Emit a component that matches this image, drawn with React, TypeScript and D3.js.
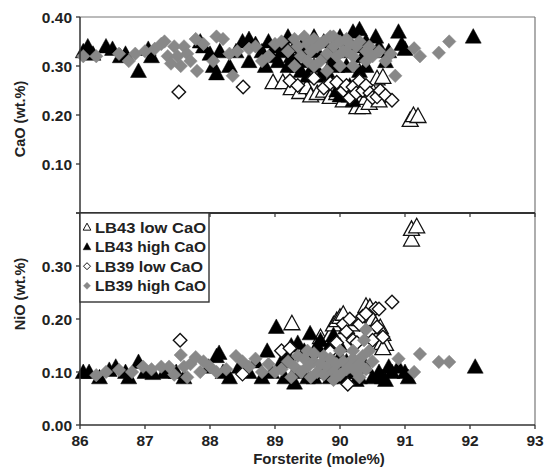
import React from "react";
import * as d3 from "d3";

// ---------- DATA ----------
// Top panel: [Forsterite, CaO]
const lb43LowCaO_top: [number, number][] = [
  [88.97, 0.267], [89.12, 0.267], [89.25, 0.255], [89.38, 0.247], [89.49, 0.257], [89.55, 0.24],
  [89.65, 0.245], [89.75, 0.25], [89.85, 0.237], [89.95, 0.245], [90.05, 0.23], [90.15, 0.24],
  [90.26, 0.216], [90.35, 0.216], [90.4, 0.235], [90.45, 0.225], [90.5, 0.25], [90.57, 0.275],
  [90.66, 0.278], [90.6, 0.23], [91.08, 0.19], [91.13, 0.2], [91.2, 0.198],
];
const lb43HighCaO_top: [number, number][] = [
  [86.05, 0.33], [86.12, 0.34], [86.2, 0.325], [86.4, 0.34], [86.5, 0.335], [86.62, 0.32], [86.7, 0.325],
  [86.9, 0.29], [87.05, 0.335], [87.1, 0.32], [87.85, 0.35], [87.9, 0.34], [88.0, 0.325], [88.05, 0.30],
  [88.1, 0.285], [88.15, 0.33], [88.3, 0.30], [88.4, 0.33], [88.5, 0.35], [88.6, 0.355], [88.7, 0.345],
  [88.6, 0.31], [88.8, 0.33], [88.85, 0.30], [88.9, 0.35], [88.95, 0.32], [89.0, 0.34], [89.05, 0.31],
  [89.1, 0.33], [89.15, 0.345], [89.2, 0.36], [89.2, 0.30], [89.25, 0.32], [89.3, 0.34], [89.35, 0.30],
  [89.4, 0.33], [89.4, 0.29], [89.45, 0.35], [89.5, 0.31], [89.5, 0.28], [89.55, 0.345], [89.6, 0.30],
  [89.6, 0.36], [89.65, 0.33], [89.7, 0.28], [89.75, 0.35], [89.8, 0.32], [89.8, 0.29], [89.85, 0.27],
  [89.9, 0.34], [89.9, 0.31], [89.95, 0.30], [89.95, 0.25], [90.0, 0.24], [90.0, 0.36], [90.05, 0.33],
  [90.1, 0.24], [90.1, 0.30], [90.15, 0.26], [90.2, 0.23], [90.25, 0.25], [90.15, 0.35], [90.2, 0.37],
  [90.25, 0.34], [90.3, 0.375], [90.3, 0.29], [90.35, 0.32], [90.4, 0.35], [90.4, 0.30], [90.5, 0.33],
  [90.55, 0.36], [90.6, 0.34], [90.7, 0.31], [90.75, 0.33], [90.9, 0.37], [90.95, 0.345], [91.0, 0.335],
  [92.05, 0.36],
];
const lb39LowCaO_top: [number, number][] = [
  [87.52, 0.247], [88.51, 0.257], [89.23, 0.27], [89.35, 0.26], [89.6, 0.275], [89.75, 0.255],
  [89.85, 0.265], [89.95, 0.267], [90.05, 0.25], [90.1, 0.26], [90.15, 0.235], [90.2, 0.257],
  [90.25, 0.245], [90.3, 0.27], [90.35, 0.25], [90.4, 0.26], [90.46, 0.245], [90.5, 0.235],
  [90.57, 0.237], [90.62, 0.25], [90.7, 0.24], [90.8, 0.23],
];
const lb39HighCaO_top: [number, number][] = [
  [86.05, 0.32], [86.25, 0.32], [86.6, 0.325], [86.75, 0.31], [86.85, 0.325], [87.0, 0.33], [87.15, 0.335],
  [87.25, 0.345], [87.3, 0.35], [87.35, 0.32], [87.4, 0.305], [87.45, 0.34], [87.5, 0.32], [87.55, 0.30],
  [87.6, 0.34], [87.65, 0.325], [87.7, 0.31], [87.78, 0.355], [87.8, 0.29], [87.9, 0.345], [88.05, 0.31],
  [88.1, 0.36], [88.2, 0.355], [88.3, 0.325], [88.35, 0.28], [88.42, 0.33], [88.6, 0.335], [88.7, 0.34],
  [88.8, 0.31], [88.9, 0.32], [89.0, 0.345], [89.1, 0.35], [89.2, 0.33], [89.3, 0.355], [89.3, 0.30],
  [89.35, 0.34], [89.4, 0.32], [89.45, 0.36], [89.5, 0.345], [89.5, 0.31], [89.55, 0.33], [89.6, 0.355],
  [89.6, 0.30], [89.65, 0.34], [89.7, 0.31], [89.7, 0.345], [89.75, 0.35], [89.8, 0.325], [89.8, 0.29],
  [89.85, 0.36], [89.9, 0.34], [89.9, 0.36], [89.95, 0.32], [90.0, 0.35], [90.0, 0.30], [90.05, 0.33],
  [90.1, 0.355], [90.1, 0.33], [90.15, 0.345], [90.2, 0.32], [90.2, 0.30], [90.25, 0.34], [90.3, 0.35],
  [90.4, 0.33], [90.4, 0.31], [90.45, 0.34], [90.5, 0.32], [90.6, 0.33], [90.7, 0.31], [90.78, 0.325],
  [90.85, 0.28], [91.14, 0.336], [91.23, 0.32], [91.52, 0.327], [91.68, 0.35],
];

// Bottom panel: [Forsterite, NiO]
const lb43LowCaO_bot: [number, number][] = [
  [89.26, 0.192], [89.7, 0.166], [89.85, 0.17], [89.9, 0.19], [89.95, 0.198], [90.0, 0.204],
  [90.05, 0.21], [90.1, 0.185], [90.2, 0.19], [90.3, 0.2], [90.4, 0.225], [90.46, 0.223],
  [90.5, 0.2], [90.55, 0.19], [90.62, 0.185], [90.64, 0.155], [90.66, 0.172], [90.7, 0.153],
  [90.66, 0.145], [91.1, 0.35], [91.1, 0.37], [91.18, 0.375],
];
const lb43HighCaO_bot: [number, number][] = [
  [86.05, 0.10], [86.14, 0.10], [86.3, 0.09], [86.45, 0.104], [86.55, 0.11], [86.7, 0.10], [86.75, 0.09],
  [86.9, 0.119], [87.0, 0.10], [87.12, 0.098], [87.3, 0.10], [87.48, 0.10], [87.6, 0.09], [87.98, 0.11],
  [88.1, 0.13], [88.14, 0.136], [88.2, 0.10], [88.3, 0.09], [88.45, 0.11], [88.6, 0.10], [88.7, 0.12],
  [88.8, 0.09], [88.88, 0.14], [88.95, 0.10], [89.02, 0.185], [89.1, 0.12], [89.15, 0.09], [89.2, 0.13],
  [89.25, 0.15], [89.3, 0.10], [89.3, 0.08], [89.35, 0.155], [89.4, 0.11], [89.45, 0.14], [89.5, 0.09],
  [89.54, 0.173], [89.55, 0.13], [89.6, 0.09], [89.65, 0.15], [89.7, 0.10], [89.7, 0.16], [89.75, 0.12],
  [89.8, 0.14], [89.85, 0.09], [89.85, 0.15], [89.9, 0.17], [89.95, 0.11], [90.0, 0.15], [90.0, 0.13],
  [90.05, 0.09], [90.1, 0.12], [90.1, 0.10], [90.2, 0.10], [90.25, 0.085], [90.3, 0.09], [90.4, 0.11],
  [90.5, 0.09], [90.6, 0.10], [90.65, 0.09], [90.7, 0.085], [90.75, 0.11], [90.8, 0.10], [90.9, 0.11],
  [91.0, 0.10], [91.05, 0.09], [92.08, 0.11],
];
const lb39LowCaO_bot: [number, number][] = [
  [87.54, 0.16], [88.5, 0.096], [89.1, 0.14], [89.23, 0.145], [89.4, 0.12], [89.6, 0.135], [89.85, 0.138],
  [89.95, 0.155], [90.05, 0.19], [90.1, 0.176], [90.12, 0.077], [90.15, 0.20], [90.2, 0.16], [90.26, 0.155],
  [90.3, 0.19], [90.35, 0.205], [90.4, 0.21], [90.45, 0.175], [90.5, 0.16], [90.55, 0.22], [90.57, 0.185],
  [90.6, 0.219], [90.66, 0.166], [90.8, 0.232],
];
const lb39HighCaO_bot: [number, number][] = [
  [86.25, 0.094], [86.4, 0.10], [86.6, 0.104], [86.8, 0.10], [86.97, 0.11], [87.1, 0.105], [87.25, 0.11],
  [87.37, 0.11], [87.45, 0.095], [87.55, 0.132], [87.6, 0.11], [87.65, 0.09], [87.7, 0.115], [87.78, 0.128],
  [87.85, 0.10], [87.9, 0.12], [88.0, 0.11], [88.1, 0.10], [88.25, 0.105], [88.4, 0.13], [88.5, 0.12],
  [88.6, 0.11], [88.7, 0.125], [88.8, 0.10], [88.9, 0.115], [89.0, 0.10], [89.1, 0.105], [89.2, 0.12],
  [89.25, 0.09], [89.3, 0.11], [89.35, 0.13], [89.4, 0.10], [89.45, 0.125], [89.5, 0.11], [89.5, 0.14],
  [89.55, 0.09], [89.6, 0.12], [89.6, 0.135], [89.65, 0.10], [89.7, 0.115], [89.75, 0.095], [89.75, 0.13],
  [89.8, 0.11], [89.85, 0.125], [89.9, 0.10], [89.9, 0.085], [89.95, 0.115], [90.0, 0.095], [90.0, 0.14],
  [90.05, 0.12], [90.1, 0.105], [90.15, 0.11], [90.2, 0.125], [90.2, 0.14], [90.25, 0.1], [90.3, 0.115],
  [90.3, 0.09], [90.35, 0.13], [90.37, 0.16], [90.4, 0.18], [90.4, 0.105], [90.45, 0.14], [90.5, 0.12],
  [90.9, 0.125], [91.14, 0.10], [91.23, 0.134], [91.52, 0.119], [91.68, 0.119],
];

const seriesNames = ["LB43 low CaO", "LB43 high CaO", "LB39 low CaO", "LB39 high CaO"];
const xTicks = [86, 87, 88, 89, 90, 91, 92, 93];
const topYTicks = [0, 0.1, 0.2, 0.3, 0.4];
const topYLabels = ["", "0.10", "0.20", "0.30", "0.40"];
const botYTicks = [0, 0.1, 0.2, 0.3, 0.4];
const botYLabels = ["0.00", "0.10", "0.20", "0.30", ""];

// ---------- LAYOUT ----------
const W = 552, H = 468;
const L = 80, R = 535;
const topT = 17, mid = 213, botB = 425;
const FONT = "'Liberation Sans', Arial, sans-serif";

const x = d3.scaleLinear().domain([86, 93]).range([L, R]);
const yTop = d3.scaleLinear().domain([0, 0.4]).range([mid, topT]);
const yBot = d3.scaleLinear().domain([0, 0.4]).range([botB, mid]);

const GRAY = "#888888";

type Kind = "openTri" | "tri" | "openDia" | "dia";
const kinds: Kind[] = ["openTri", "tri", "openDia", "dia"];

function markerPath(kind: Kind, s: number) {
  if (kind === "openTri" || kind === "tri") {
    return `M0,${-0.55 * s}L${-0.55 * s},${0.45 * s}L${0.55 * s},${0.45 * s}Z`;
  }
  return `M0,${-0.5 * s}L${0.5 * s},0L0,${0.5 * s}L${-0.5 * s},0Z`;
}

function markerStyle(kind: Kind) {
  switch (kind) {
    case "openTri": return { fill: "#fff", stroke: "#111", strokeWidth: 1.3 };
    case "tri": return { fill: "#000", stroke: "#000", strokeWidth: 0.5 };
    case "openDia": return { fill: "#fff", stroke: "#111", strokeWidth: 1.4 };
    default: return { fill: GRAY, stroke: GRAY, strokeWidth: 0.5 };
  }
}

function Points({ data, kind, y }: { data: [number, number][]; kind: Kind; y: d3.ScaleLinear<number, number> }) {
  const s = kind === "openTri" || kind === "tri" ? 14.5 : 13.5;
  const d = markerPath(kind, s);
  const st = markerStyle(kind);
  return (
    <g>
      {data.map((p, i) => (
        <path key={i} d={d} transform={`translate(${x(p[0])},${y(p[1])})`} {...st} />
      ))}
    </g>
  );
}

export default function App() {
  const topSeries = [lb43LowCaO_top, lb43HighCaO_top, lb39LowCaO_top, lb39HighCaO_top];
  const botSeries = [lb43LowCaO_bot, lb43HighCaO_bot, lb39LowCaO_bot, lb39HighCaO_bot];
  const tickFont = { fontFamily: FONT, fontWeight: 700, fontSize: 15.5, fill: "#222" } as const;
  return (
    <svg width={W} height={H} style={{ position: "absolute", left: 0, top: 0, background: "#fff" }}>
      <rect x={0} y={0} width={W} height={H} fill="#fff" />
      {/* frames */}
      <line x1={L} x2={R} y1={topT} y2={topT} stroke="#777" strokeWidth={1} />
      <line x1={R} x2={R} y1={topT} y2={botB} stroke="#777" strokeWidth={1.2} />

      {/* points */}
      {topSeries.map((s, i) => <Points key={"t" + i} data={s} kind={kinds[i]} y={yTop} />)}
      {botSeries.map((s, i) => <Points key={"b" + i} data={s} kind={kinds[i]} y={yBot} />)}

      {/* axes */}
      <line x1={L} x2={L} y1={topT} y2={botB} stroke="#333" strokeWidth={1.5} />
      <line x1={L} x2={R} y1={mid} y2={mid} stroke="#333" strokeWidth={1.8} />
      <line x1={L} x2={R} y1={botB} y2={botB} stroke="#333" strokeWidth={1.5} />

      {/* y ticks top */}
      {topYTicks.map((t, i) => (
        <g key={"yt" + i}>
          <line x1={L - 4} x2={L} y1={yTop(t)} y2={yTop(t)} stroke="#333" strokeWidth={1.3} />
          <text x={72} y={yTop(t)} dy="0.36em" textAnchor="end" {...tickFont}>{topYLabels[i]}</text>
        </g>
      ))}
      {/* y ticks bottom */}
      {botYTicks.map((t, i) => (
        <g key={"yb" + i}>
          <line x1={L - 4} x2={L} y1={yBot(t)} y2={yBot(t)} stroke="#333" strokeWidth={1.3} />
          <text x={72} y={yBot(t)} dy="0.36em" textAnchor="end" {...tickFont}>{botYLabels[i]}</text>
        </g>
      ))}
      {/* x ticks */}
      {xTicks.map((t, i) => (
        <g key={"x" + i}>
          <line x1={x(t)} x2={x(t)} y1={mid} y2={mid + 4} stroke="#333" strokeWidth={1.2} />
          <line x1={x(t)} x2={x(t)} y1={botB} y2={botB + 4} stroke="#333" strokeWidth={1.3} />
          <text x={x(t)} y={446} textAnchor="middle" {...tickFont}>{t}</text>
        </g>
      ))}

      {/* axis titles */}
      <text transform={`translate(25,119) rotate(-90)`} textAnchor="middle" fontFamily={FONT} fontWeight={700} fontSize={14.5} fill="#222">CaO (wt.%)</text>
      <text transform={`translate(25,294) rotate(-90)`} textAnchor="middle" fontFamily={FONT} fontWeight={700} fontSize={14.5} fill="#222">NiO (wt.%)</text>
      <text x={319} y={464} textAnchor="middle" fontFamily={FONT} fontWeight={700} fontSize={15} fill="#222">Forsterite (mole%)</text>

      {/* legend */}
      <rect x={L} y={mid} width={129} height={89} fill="#fff" stroke="#333" strokeWidth={1.4} />
      {seriesNames.map((n, i) => {
        const cy = 227 + i * 19.6;
        const k = kinds[i];
        const st = markerStyle(k);
        const lens = [111, 111, 108, 111];
        return (
          <g key={"lg" + i}>
            <path d={markerPath(k, 7)} transform={`translate(87,${cy})`} {...st} strokeWidth={k === "openTri" || k === "openDia" ? 1 : 0.5} />
            <text x={95} y={cy + 5.5} fontFamily={FONT} fontWeight={700} fontSize={14.5} fill="#222" textLength={lens[i]} lengthAdjust="spacingAndGlyphs">{n}</text>
          </g>
        );
      })}
    </svg>
  );
}
